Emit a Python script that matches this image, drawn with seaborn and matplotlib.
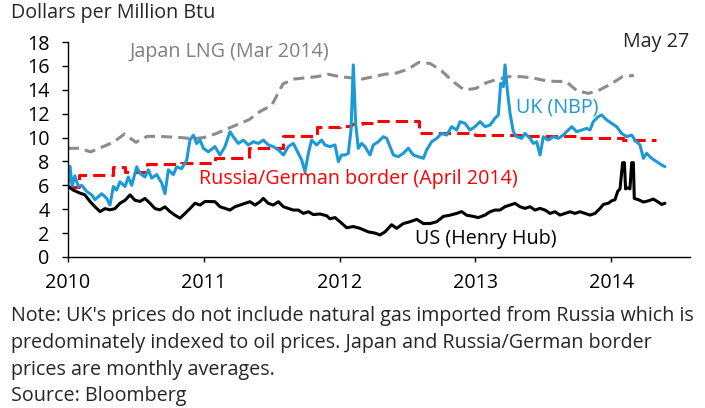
import pandas as pd
import matplotlib
matplotlib.use('Agg')
import matplotlib.pyplot as plt
import seaborn as sns

# UK NBP (daily-ish)
uk_year = [2010.000, 2010.015, 2010.030, 2010.050, 2010.076, 2010.101, 2010.137, 2010.174, 2010.199, 2010.223,
           2010.248, 2010.285, 2010.309, 2010.334, 2010.358, 2010.383, 2010.420, 2010.444, 2010.469, 2010.506,
           2010.530, 2010.567, 2010.592, 2010.616, 2010.653, 2010.690, 2010.714, 2010.739, 2010.776, 2010.800,
           2010.837, 2010.874, 2010.898, 2010.923, 2010.947, 2010.972, 2010.997, 2011.033, 2011.082, 2011.119,
           2011.156, 2011.193, 2011.217, 2011.254, 2011.291, 2011.328, 2011.365, 2011.402, 2011.438, 2011.475,
           2011.512, 2011.549, 2011.586, 2011.622, 2011.659, 2011.696, 2011.721, 2011.745, 2011.770, 2011.794,
           2011.831, 2011.868, 2011.892, 2011.929, 2011.966, 2011.991, 2012.015, 2012.040, 2012.064, 2012.084,
           2012.101, 2012.118, 2012.138, 2012.162, 2012.187, 2012.224, 2012.248, 2012.285, 2012.322, 2012.347,
           2012.371, 2012.396, 2012.432, 2012.469, 2012.506, 2012.543, 2012.580, 2012.617, 2012.641, 2012.678,
           2012.715, 2012.752, 2012.788, 2012.825, 2012.862, 2012.887, 2012.923, 2012.960, 2012.997, 2013.034,
           2013.071, 2013.108, 2013.144, 2013.169, 2013.186, 2013.206, 2013.218, 2013.235, 2013.255, 2013.279,
           2013.304, 2013.341, 2013.365, 2013.402, 2013.427, 2013.451, 2013.476, 2013.500, 2013.537, 2013.574,
           2013.611, 2013.647, 2013.684, 2013.709, 2013.746, 2013.783, 2013.819, 2013.844, 2013.868, 2013.905,
           2013.930, 2013.967, 2014.003, 2014.040, 2014.077, 2014.114, 2014.151, 2014.175, 2014.212, 2014.237,
           2014.261, 2014.298, 2014.335, 2014.372, 2014.396]
uk_price = [6.0, 7.6, 5.9, 6.8, 5.9, 6.0, 5.5, 5.2, 4.8, 5.05,
            5.3, 4.9, 4.35, 5.9, 5.6, 6.3, 5.9, 6.7, 6.0, 7.55,
            7.0, 6.7, 7.3, 6.6, 6.9, 6.2, 5.3, 7.3, 6.9, 7.55,
            7.4, 8.1, 9.8, 10.2, 9.5, 9.8, 9.1, 8.8, 9.24, 8.54,
            9.24, 10.49, 10.07, 9.51, 9.79, 9.38, 9.65, 9.51, 9.79, 9.38,
            9.24, 8.96, 8.54, 9.24, 9.51, 8.68, 8.12, 7.14, 8.68, 9.79,
            9.38, 9.79, 9.38, 9.24, 9.38, 7.98, 8.54, 8.54, 8.68, 10.63,
            16.08, 11.19, 9.10, 9.51, 9.24, 8.54, 9.38, 9.65, 10.07, 9.93,
            9.24, 8.54, 8.40, 8.68, 9.10, 8.54, 8.40, 8.26, 8.96, 9.65,
            9.93, 10.35, 10.21, 10.91, 10.63, 11.33, 11.19, 10.63, 10.91, 11.33,
            10.91, 11.05, 11.61, 11.89, 14.54, 14.26, 16.08, 13.98, 12.03, 10.49,
            10.07, 9.93, 10.35, 9.93, 9.51, 9.65, 8.54, 10.07, 9.79, 10.07,
            9.93, 10.21, 10.63, 10.91, 10.49, 10.63, 10.77, 10.63, 11.33, 11.75,
            11.89, 11.47, 11.19, 10.91, 10.35, 10.07, 10.21, 9.79, 9.38, 8.26,
            8.68, 8.26, 7.98, 7.70, 7.56]

# US Henry Hub
us_year = [2010.002, 2010.039, 2010.088, 2010.125, 2010.162, 2010.199, 2010.236, 2010.272, 2010.309, 2010.346,
           2010.383, 2010.420, 2010.457, 2010.493, 2010.530, 2010.567, 2010.604, 2010.641, 2010.677, 2010.714,
           2010.751, 2010.788, 2010.825, 2010.862, 2010.898, 2010.935, 2010.972, 2011.009, 2011.082, 2011.119,
           2011.156, 2011.193, 2011.230, 2011.267, 2011.303, 2011.340, 2011.377, 2011.414, 2011.438, 2011.475,
           2011.512, 2011.549, 2011.586, 2011.622, 2011.659, 2011.696, 2011.733, 2011.770, 2011.807, 2011.856,
           2011.905, 2011.929, 2011.966, 2012.003, 2012.052, 2012.101, 2012.150, 2012.212, 2012.261, 2012.297,
           2012.334, 2012.383, 2012.420, 2012.469, 2012.518, 2012.568, 2012.617, 2012.666, 2012.715, 2012.764,
           2012.813, 2012.862, 2012.899, 2012.935, 2012.985, 2013.021, 2013.071, 2013.108, 2013.144, 2013.181,
           2013.218, 2013.255, 2013.292, 2013.328, 2013.365, 2013.402, 2013.439, 2013.476, 2013.513, 2013.549,
           2013.586, 2013.623, 2013.660, 2013.697, 2013.733, 2013.770, 2013.807, 2013.844, 2013.881, 2013.918,
           2013.942, 2013.979, 2014.003, 2014.028, 2014.048, 2014.065, 2014.084, 2014.097, 2014.106, 2014.126,
           2014.138, 2014.151, 2014.163, 2014.170, 2014.200, 2014.237, 2014.273, 2014.310, 2014.347, 2014.372,
           2014.396]
us_price = [5.9, 5.6, 5.35, 5.2, 4.65, 4.2, 3.8, 4.05, 3.95, 4.05,
            4.5, 4.75, 5.2, 4.75, 4.65, 4.9, 4.5, 4.05, 3.95, 4.2,
            3.8, 3.5, 3.25, 3.65, 4.05, 4.5, 4.35, 4.65, 4.63, 4.21,
            4.07, 3.93, 4.21, 4.35, 4.49, 4.63, 4.35, 4.63, 4.91, 4.49,
            4.35, 4.63, 4.21, 4.07, 3.93, 3.93, 3.65, 3.79, 3.55, 3.6,
            3.45, 3.2, 3.3, 2.95, 2.45, 2.55, 2.4, 2.1, 2.0, 1.85,
            2.1, 2.7, 2.4, 2.8, 2.95, 3.15, 2.8, 2.8, 2.95, 3.4,
            3.5, 3.65, 3.8, 3.5, 3.4, 3.3, 3.51, 3.79, 3.93, 3.93,
            4.21, 4.35, 4.49, 4.21, 4.07, 4.21, 3.93, 4.07, 3.93, 3.65,
            3.79, 3.51, 3.65, 3.79, 3.65, 3.79, 3.65, 3.51, 3.65, 4.07,
            4.4, 4.5, 4.7, 4.8, 5.5, 5.7, 7.9, 7.9, 5.7, 5.8,
            5.7, 7.9, 7.9, 4.9, 4.8, 4.6, 4.7, 4.85, 4.6, 4.4,
            4.5]

# monthly averages, starting Jan 2010
japan_lng = [9.1, 9.1, 8.8, 9.2, 9.6, 10.3, 9.6, 10.1, 10.1, 10.05,
             10.0, 9.9, 10.0, 10.3, 10.7, 11.1, 11.5, 12.2, 12.7, 14.5,
             14.9, 15.0, 15.1, 15.3, 15.1, 15.0, 14.9, 15.1, 15.3, 15.4,
             15.7, 16.3, 16.2, 15.6, 14.7, 14.0, 14.1, 14.6, 14.9, 15.1,
             15.1, 15.0, 14.8, 14.7, 14.7, 13.9, 13.7, 14.0, 14.5, 15.1,
             15.2]
russia_german = [5.9, 6.9, 6.9, 6.9, 7.5, 7.1, 7.1, 7.8, 7.8, 7.8,
                 7.85, 7.9, 7.9, 8.3, 8.3, 8.3, 9.1, 9.1, 9.1, 10.1,
                 10.1, 10.1, 10.9, 10.9, 11.0, 11.1, 11.2, 11.4, 11.4, 11.4,
                 11.4, 10.4, 10.4, 10.4, 10.4, 10.4, 10.25, 10.25, 10.25, 10.25,
                 10.1, 10.1, 10.1, 10.1, 10.1, 10.0, 10.0, 10.0, 10.0, 9.8,
                 9.8, 9.8]

year_ticks = [2010, 2011, 2012, 2013, 2014]
note_lines = ["Note: UK's prices do not include natural gas imported from Russia which is",
              "predominately indexed to oil prices. Japan and Russia/German border",
              "prices are monthly averages.",
              "Source: Bloomberg"]

BLUE = '#1b9ad6'
GRAY = '#8c8c8c'
RED = '#ff0000'
FS = 14.2


def month_years(n):
    months = pd.period_range('2010-01', periods=n, freq='M')
    return [p.year + (p.month - 1) / 12 for p in months]


sns.set_style('white')
plt.rcParams['font.family'] = ['Open Sans', 'DejaVu Sans']

W, H = 705, 408
fig = plt.figure(figsize=(W / 100, H / 100), dpi=100)
ax = fig.add_axes([68 / W, 1 - 257 / H, 622 / W, 215 / H])

jp = pd.DataFrame({'year': month_years(len(japan_lng)), 'price': japan_lng})
sns.lineplot(data=jp, x='year', y='price', ax=ax, color=GRAY, lw=2.2, estimator=None)
ax.lines[-1].set_dashes((3.6, 2.0))

# step series: add closing edge so the last month gets its own step
ru_x = month_years(len(russia_german) + 1)
ru = pd.DataFrame({'year': ru_x, 'price': russia_german + [russia_german[-1]]})
sns.lineplot(data=ru, x='year', y='price', ax=ax, color=RED, lw=2.2, estimator=None,
             drawstyle='steps-post')
ax.lines[-1].set_dashes((4.0, 2.0))

uk = pd.DataFrame({'year': uk_year, 'price': uk_price})
sns.lineplot(data=uk, x='year', y='price', ax=ax, color=BLUE, lw=2.2, estimator=None)

us = pd.DataFrame({'year': us_year, 'price': us_price})
sns.lineplot(data=us, x='year', y='price', ax=ax, color='black', lw=2.2, estimator=None)

ax.set_xlim(2010, 2010 + 622 / 135.8)
ax.set_ylim(0, 18)
ax.set_yticks(range(0, 19, 2))
ax.set_xticks(year_ticks)
ax.set_xticklabels([str(y) for y in year_ticks])
ax.set_xlabel('')
ax.set_ylabel('')
for s in ['top', 'right']:
    ax.spines[s].set_visible(False)
for s in ['left', 'bottom']:
    ax.spines[s].set_color('black')
    ax.spines[s].set_linewidth(1.0)
ax.tick_params(axis='y', direction='out', length=4.3, width=1, pad=9, labelsize=FS, colors='black', left=True)
ax.tick_params(axis='x', direction='out', length=3.6, width=1, pad=8, labelsize=FS, colors='black', bottom=True)

ax.text(2011.19, 17.2, 'Japan LNG (Mar 2014)', color='#808080', fontsize=FS, ha='center', va='center')
ax.text(2013.60, 12.55, 'UK (NBP)', color=BLUE, fontsize=FS, ha='center', va='center')
ax.text(2012.14, 6.55, 'Russia/German border (April 2014)', color=RED, fontsize=FS, ha='center', va='center')
ax.text(2013.08, 1.5, 'US (Henry Hub)', color='black', fontsize=FS, ha='center', va='center')

fig.text(689 / W, 1 - 47 / H, 'May 27', fontsize=FS, ha='right', va='baseline')
fig.text(11 / W, 1 - 18 / H, 'Dollars per Million Btu', fontsize=FS, ha='left', va='baseline')
for i, line in enumerate(note_lines):
    fig.text(11 / W, 1 - (321.5 + 26.5 * i) / H, line, fontsize=FS, ha='left', va='baseline')

fig.savefig('out.png', dpi=100)
